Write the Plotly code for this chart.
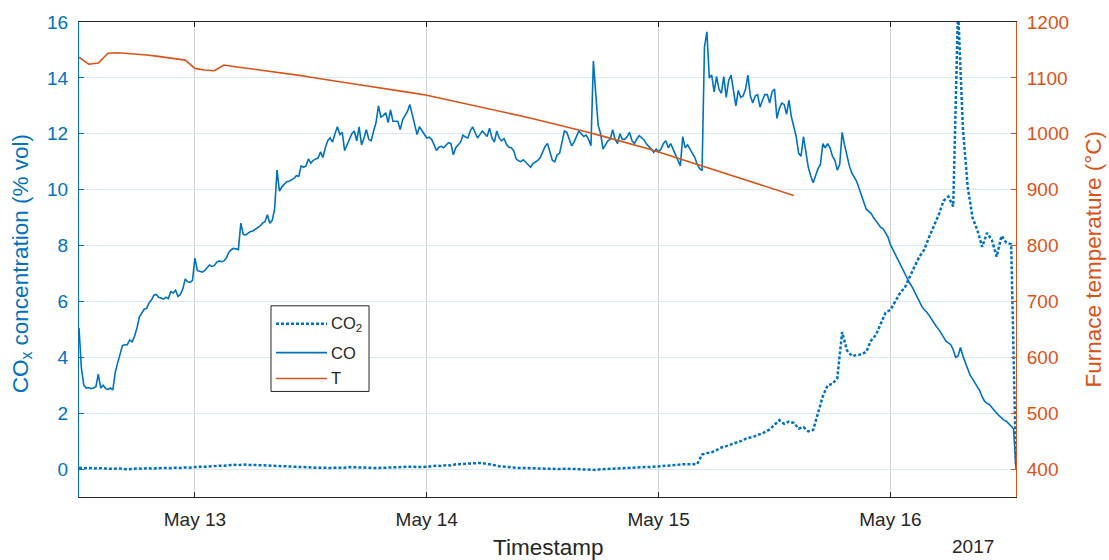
import pandas as pd
import plotly.graph_objects as go

# ---- CO reading every 15 min from 2017-05-12 12:00 (% vol) ----
co_pct = [
    5.05, 3.6, 3.0, 2.9, 2.92, 2.88, 2.9, 2.95,
    3.4, 2.9, 3.0, 2.88, 2.85, 2.9, 2.83, 3.45,
    3.8, 4.15, 4.42, 4.45, 4.45, 4.62, 4.55, 4.75,
    5.05, 5.45, 5.6, 5.72, 5.75, 5.95, 6.05, 6.22,
    6.25, 6.15, 6.12, 6.08, 6.15, 6.1, 6.35, 6.3,
    6.4, 6.18, 6.25, 6.45, 6.8, 6.7, 6.68, 6.75,
    7.55, 7.1, 7.08, 7.05, 7.1, 7.2, 7.3, 7.25,
    7.28, 7.4, 7.45, 7.42, 7.45, 7.55, 7.75, 7.85,
    7.9, 7.88, 7.85, 8.8, 8.4, 8.38, 8.45, 8.5,
    8.52, 8.57, 8.62, 8.7, 8.8, 8.85, 9.1, 8.8,
    8.9, 9.3, 10.7, 9.95, 10.1, 10.2, 10.28, 10.3,
    10.35, 10.4, 10.5, 10.48, 10.85, 10.8, 10.85, 11.1,
    10.95, 11.05, 11.1, 11.13, 11.35, 11.15, 11.5, 11.75,
    11.85, 11.7, 12.0, 12.25, 11.97, 12.05, 11.4, 11.6,
    11.8, 12.0, 12.1, 11.75, 12.25, 11.6, 11.85, 12.15,
    11.8, 11.75, 12.1, 12.4, 13.0, 12.6, 12.65, 12.75,
    12.4, 12.85, 12.45, 12.45, 12.45, 12.15, 12.5, 12.65,
    12.8, 13.05, 12.65, 12.3, 11.97, 12.25, 12.1, 11.95,
    11.85, 11.88, 11.8, 11.62, 11.4, 11.52, 11.55, 11.5,
    11.58, 11.68, 11.65, 11.25, 11.5, 11.62, 11.7, 11.95,
    11.88, 11.85, 12.1, 12.25, 12.05, 11.85, 11.97, 12.1,
    12.0, 11.9, 12.2, 11.85, 11.7, 12.1, 11.85, 11.75,
    11.83, 11.62, 11.52, 11.5, 11.4, 11.1, 11.03, 11.0,
    11.07, 10.98, 10.88, 10.8, 10.93, 10.98, 11.05, 11.15,
    11.32, 11.55, 11.65, 11.3, 11.05, 11.0, 11.25, 11.3,
    11.65, 12.1, 12.05, 11.8, 11.57, 11.7, 11.9, 12.1,
    12.0, 11.9, 11.95, 11.8, 11.57, 14.6, 13.4, 12.3,
    12.0, 11.45, 11.6, 11.75, 11.8, 12.15, 11.8, 11.65,
    12.0, 11.8, 11.8, 11.9, 12.05, 11.75, 11.65, 11.82,
    11.93, 11.85, 11.78, 11.63, 11.55, 11.45, 11.33, 11.45,
    11.35, 11.45, 11.65, 11.75, 11.5, 11.65, 11.45, 11.25,
    11.05, 10.85, 11.9, 11.5, 11.6, 11.45, 11.3, 11.15,
    10.9, 10.75, 10.68, 15.1, 15.65, 14.0, 14.1, 13.5,
    14.05, 13.6, 13.45, 14.05, 13.3, 13.9, 14.1, 13.6,
    13.0, 13.55, 13.3, 13.35, 13.6, 14.1, 13.35, 13.1,
    13.35, 13.4, 12.95, 13.2, 13.4, 13.4, 13.1, 13.5,
    13.6, 12.55, 12.9, 13.1, 13.05, 12.7, 13.2, 12.6,
    12.2, 11.9, 11.3, 11.2, 11.9, 11.4, 10.8, 10.5,
    10.25, 10.5, 10.75, 10.9, 11.65, 11.5, 11.65, 11.5,
    11.2, 11.05, 10.7, 10.9, 12.05, 11.6, 11.2, 10.85,
    10.6, 10.45, 10.3, 10.05, 9.8, 9.5, 9.3, 9.22,
    9.15, 9.0, 8.87, 8.75, 8.65, 8.6, 8.47, 8.3,
    8.03, 7.85, 7.7, 7.52, 7.35, 7.17, 7.0, 6.82,
    6.65, 6.52, 6.35, 6.14, 5.96, 5.82, 5.7, 5.62,
    5.5, 5.35, 5.24, 5.1, 5.0, 4.88, 4.72, 4.58,
    4.52, 4.45, 4.27, 4.0, 4.05, 4.35, 4.05, 3.82,
    3.58, 3.36, 3.23, 3.08, 2.92, 2.8, 2.58, 2.43,
    2.35, 2.31, 2.2, 2.08, 2.0, 1.91, 1.83, 1.75,
    1.71, 1.63, 1.54, 1.44, 0.0,
]

# ---- CO2 reading every 30 min from 2017-05-12 12:00 (% vol) ----
co2_pct = [
    0.05, 0.03, 0.04, 0.02, 0.03, 0.02, 0.03, 0.01, 0.02, 0.0,
    -0.01, 0.0, 0.02, 0.01, 0.03, 0.02, 0.03, 0.02, 0.04, 0.03,
    0.05, 0.04, 0.06, 0.05, 0.07, 0.08, 0.08, 0.1, 0.1, 0.12,
    0.12, 0.14, 0.15, 0.14, 0.16, 0.15, 0.15, 0.14, 0.13, 0.13,
    0.12, 0.11, 0.1, 0.1, 0.09, 0.08, 0.07, 0.07, 0.06, 0.05,
    0.05, 0.04, 0.04, 0.05, 0.04, 0.05, 0.07, 0.06, 0.07, 0.05,
    0.05, 0.04, 0.04, 0.05, 0.05, 0.06, 0.06, 0.07, 0.08, 0.08,
    0.07, 0.07, 0.08, 0.1, 0.12, 0.11, 0.14, 0.13, 0.17, 0.18,
    0.19, 0.2, 0.21, 0.22, 0.2, 0.18, 0.14, 0.1, 0.08, 0.06,
    0.05, 0.04, 0.04, 0.03, 0.03, 0.02, 0.02, 0.01, 0.01, 0.0,
    0.0, 0.01, 0.0, 0.01, 0.0, -0.01, -0.02, -0.03, -0.01, 0.0,
    0.01, 0.03, 0.03, 0.04, 0.05, 0.05, 0.06, 0.07, 0.07, 0.08,
    0.09, 0.1, 0.11, 0.13, 0.15, 0.17, 0.16, 0.17, 0.18, 0.52,
    0.57, 0.6, 0.68, 0.77, 0.82, 0.88, 0.92, 1.0, 1.08, 1.12,
    1.18, 1.25, 1.32, 1.42, 1.58, 1.75, 1.62, 1.7, 1.65, 1.45,
    1.5, 1.35, 1.4, 2.0, 2.6, 3.0, 3.05, 3.25, 4.9, 4.25,
    4.05, 4.08, 4.1, 4.2, 4.6, 4.8, 5.2, 5.6, 5.7, 6.0,
    6.3, 6.5, 6.9, 7.25, 7.6, 7.85, 8.3, 8.7, 9.1, 9.6,
    9.75, 9.4, 16.5, 12.2, 10.1, 9.0, 8.55, 7.95, 8.45, 8.2,
    7.6, 8.35, 8.1, 8.05, 0.1,
]

# ---- furnace temperature, hourly from 2017-05-12 12:00 (°C) ----
furnace_T = [
    1137, 1124.5, 1126.5, 1144, 1145, 1144, 1142.7, 1141, 1139, 1136.8,
    1134.3, 1131.8, 1117, 1114, 1112.7, 1123, 1120.5, 1118.3, 1116, 1113.5,
    1111.3, 1109, 1106.5, 1104, 1101, 1098, 1095.5, 1093, 1090.5, 1088,
    1085.3, 1082.6, 1080, 1077.2, 1074.5, 1071.8, 1069, 1065.3, 1061.6, 1057.9,
    1054.2, 1050.4, 1046.6, 1042.8, 1038.9, 1035, 1031, 1026.9, 1022.8, 1018.6,
    1014.4, 1010, 1005.6, 1001.2, 996.7, 992.1, 987.4, 982.6, 977.7, 972.6,
    967.3, 961.8, 956.3, 950.8, 945.2, 939.6, 934, 928.4, 922.8, 917.2,
    911.6, 906, 900.4, 894.8, 889.5,
]

day_ticks = ['2017-05-13', '2017-05-14', '2017-05-15', '2017-05-16']
day_labels = ['May 13', 'May 14', 'May 15', 'May 16']
co_ticks = [0, 2, 4, 6, 8, 10, 12, 14, 16]
temp_ticks = [400, 500, 600, 700, 800, 900, 1000, 1100, 1200]

t_start = '2017-05-12 12:00'
t_end = '2017-05-16 13:00'
co_time = pd.date_range(t_start, periods=len(co_pct), freq='15min')
co2_time = pd.date_range(t_start, periods=len(co2_pct), freq='30min')
temp_time = pd.date_range(t_start, periods=len(furnace_T), freq='60min')

BLUE = '#0072BD'
ORANGE = '#D95319'
DARK = '#262626'
FONT = 'Liberation Sans, Arial, Helvetica, sans-serif'

# plot-area geometry (pixels) used to place the hand-built legend box
PLOT_L, PLOT_T, PLOT_W, PLOT_H = 79, 20, 937, 477


def px(x):
    return (x - PLOT_L) / PLOT_W


def py(y):
    return 1 - (y - PLOT_T) / PLOT_H


co2_line = dict(color=BLUE, width=2.5, dash='3px,2px')
co_line = dict(color=BLUE, width=1.6)
t_line = dict(color=ORANGE, width=1.6)

fig = go.Figure()
fig.add_trace(go.Scatter(x=co2_time, y=co2_pct, mode='lines',
                         name='CO2', line=co2_line, showlegend=False))
fig.add_trace(go.Scatter(x=co_time, y=co_pct, mode='lines',
                         name='CO', line=co_line, showlegend=False))
fig.add_trace(go.Scatter(x=temp_time, y=furnace_T, mode='lines', yaxis='y2',
                         name='T', line=t_line, showlegend=False))

# legend: framed box with a key line and label per series
legend_items = [
    ('CO<sub>2</sub>', co2_line, 323),
    ('CO', co_line, 352),
    ('T', t_line, 378),
]
shapes = [dict(type='rect', xref='paper', yref='paper',
               x0=px(271), x1=px(369), y0=py(391), y1=py(305),
               line=dict(color=DARK, width=1), fillcolor='white', layer='above')]
annotations = []
for label, style, ypix in legend_items:
    shapes.append(dict(type='line', xref='paper', yref='paper',
                       x0=px(276), x1=px(327), y0=py(ypix), y1=py(ypix),
                       line=style, layer='above'))
    annotations.append(dict(text=label, xref='paper', yref='paper',
                            x=px(329), y=py(ypix), xanchor='left', yanchor='middle',
                            showarrow=False,
                            font=dict(size=16.5, color=DARK, family=FONT)))

annotations += [
    dict(text='CO<sub>x</sub> concentration (% vol)', textangle=-90,
         xref='paper', yref='paper', x=-0.0608, y=0.49,
         xanchor='center', yanchor='middle', showarrow=False,
         font=dict(size=22.5, color=BLUE, family=FONT)),
    dict(text='Furnace temperature (°C)', textangle=-90,
         xref='paper', yref='paper', x=1.0822, y=0.5,
         xanchor='center', yanchor='middle', showarrow=False,
         font=dict(size=22.5, color=ORANGE, family=FONT)),
    dict(text='Timestamp', xref='paper', yref='paper', x=0.5, y=-0.107,
         xanchor='center', yanchor='middle', showarrow=False,
         font=dict(size=22.5, color=DARK, family=FONT)),
    dict(text='2017', xref='paper', yref='paper', x=0.9536, y=-0.105,
         xanchor='center', yanchor='middle', showarrow=False,
         font=dict(size=19, color=DARK, family=FONT)),
]

fig.update_layout(
    width=1109, height=560,
    margin=dict(l=PLOT_L, r=1109 - PLOT_L - PLOT_W, t=PLOT_T, b=560 - PLOT_T - PLOT_H),
    paper_bgcolor='white', plot_bgcolor='white',
    font=dict(family=FONT, color=DARK),
    showlegend=False,
    xaxis=dict(
        type='date', range=[t_start, t_end],
        tickvals=day_ticks, ticktext=day_labels,
        ticks='inside', ticklen=5, tickcolor=DARK,
        showline=True, linecolor=DARK, linewidth=1, mirror='ticks',
        showgrid=True, gridcolor='#D2D2D2', gridwidth=1,
        zeroline=False, tickfont=dict(size=19, color=DARK),
        ticklabelstandoff=5,
    ),
    yaxis=dict(
        range=[-1, 16], tickvals=co_ticks,
        ticks='inside', ticklen=5, tickcolor=BLUE,
        showline=True, linecolor=BLUE, linewidth=1,
        showgrid=True, gridcolor='#DAE9F5', gridwidth=1,
        zeroline=False, tickfont=dict(size=19, color=BLUE),
        ticklabelstandoff=6,
    ),
    yaxis2=dict(
        overlaying='y', side='right', range=[350, 1200], tickvals=temp_ticks,
        ticks='inside', ticklen=5, tickcolor=ORANGE,
        showline=True, linecolor=ORANGE, linewidth=1,
        showgrid=False, zeroline=False,
        tickfont=dict(size=19, color=ORANGE),
        ticklabelstandoff=6,
    ),
    shapes=shapes,
    annotations=annotations,
)

fig.write_html('out.html')
